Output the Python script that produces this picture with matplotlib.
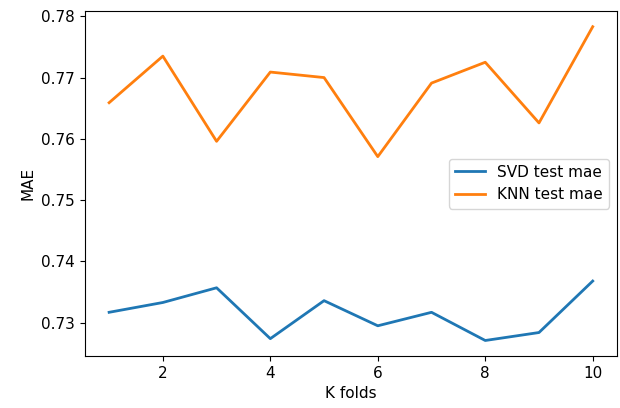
import matplotlib
matplotlib.use("Agg")
import matplotlib.pyplot as plt

folds = [1, 2, 3, 4, 5, 6, 7, 8, 9, 10]
svd_mae = [0.7317, 0.7333, 0.7357, 0.7274, 0.7336, 0.7295, 0.7317, 0.7271, 0.7284, 0.7368]
knn_mae = [0.7659, 0.7735, 0.7596, 0.7709, 0.7700, 0.7571, 0.7691, 0.7725, 0.7626, 0.7783]

plt.rcParams['font.size'] = 11

fig = plt.figure(figsize=(6.2, 4.08), dpi=100)
plt.subplots_adjust(left=0.137, right=0.995, top=0.973, bottom=0.127)

plt.plot(folds, svd_mae, label='SVD test mae', lw=2)
plt.plot(folds, knn_mae, label='KNN test mae', lw=2)
plt.xlabel('K folds')
plt.ylabel('MAE')
plt.legend(loc='center right')

plt.savefig('out.png', dpi=100)
